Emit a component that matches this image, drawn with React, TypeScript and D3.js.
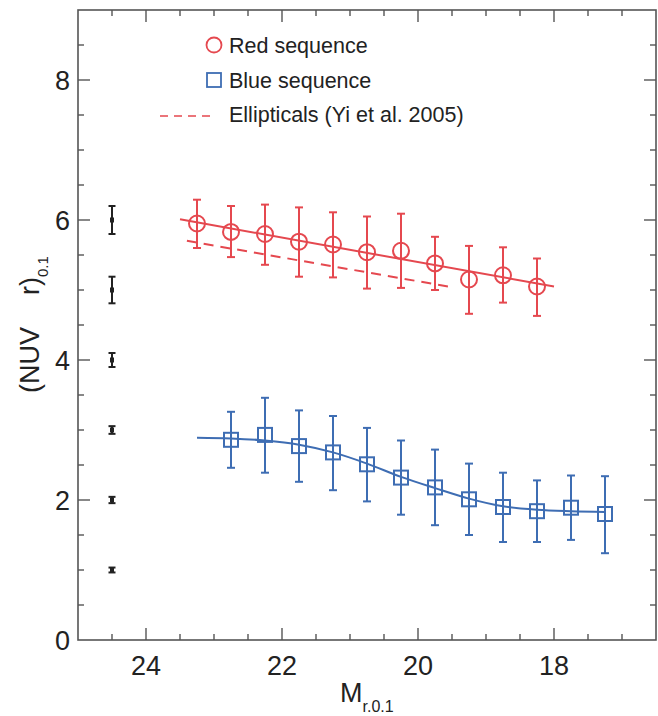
import * as d3 from 'd3'

// ── data ─────────────────────────────────────────────────────────────────────
const redMag   = [23.25, 22.75, 22.25, 21.75, 21.25, 20.75, 20.25, 19.75, 19.25, 18.75, 18.25]
const redColor = [5.95, 5.83, 5.80, 5.69, 5.65, 5.54, 5.56, 5.38, 5.15, 5.21, 5.05]
const redHi    = [6.29, 6.20, 6.22, 6.18, 6.11, 6.05, 6.09, 5.76, 5.63, 5.61, 5.45]
const redLo    = [5.60, 5.47, 5.36, 5.19, 5.18, 5.02, 5.03, 5.00, 4.66, 4.82, 4.63]

const blueMag   = [22.75, 22.25, 21.75, 21.25, 20.75, 20.25, 19.75, 19.25, 18.75, 18.25, 17.75, 17.25]
const blueColor = [2.86, 2.93, 2.77, 2.68, 2.51, 2.32, 2.18, 2.01, 1.90, 1.84, 1.89, 1.80]
const blueHi    = [3.26, 3.46, 3.28, 3.20, 3.03, 2.85, 2.72, 2.52, 2.39, 2.28, 2.35, 2.34]
const blueLo    = [2.46, 2.39, 2.26, 2.14, 1.98, 1.79, 1.64, 1.50, 1.40, 1.40, 1.43, 1.24]

// linear fit to the red sequence and the Yi et al. (2005) ellipticals
const redFitMag     = [23.5, 18.0]
const redFitColor   = [6.01, 5.05]
const ellipMag      = [23.5, 19.5]
const ellipColor    = [5.72, 5.04]

// smooth fit to the blue sequence
const blueFitMag   = [23.25, 22.75, 22.25, 21.75, 21.25, 20.75, 20.25, 19.75, 19.25, 18.75, 18.25, 17.75, 17.25]
const blueFitColor = [2.89, 2.88, 2.85, 2.79, 2.68, 2.52, 2.33, 2.17, 2.02, 1.91, 1.86, 1.84, 1.83]

// typical error bars drawn at the left edge
const errMag    = 24.5
const errLevels = [6, 5, 4, 3, 2, 1]
const errSize   = [0.20, 0.19, 0.10, 0.055, 0.045, 0.035]

const xTickLabels = [24, 22, 20, 18]
const yTickLabels = [0, 2, 4, 6, 8]

// ── constants ────────────────────────────────────────────────────────────────
const W = 658
const H = 716
const RED  = '#e5484f'
const BLUE = '#3e6db3'
const INK  = '#222'
const AXC  = '#555'
const FONT = '"Liberation Sans", Arial, Helvetica, sans-serif'

const x = d3.scaleLinear().domain([25, 16.5]).range([78, 656])
const y = d3.scaleLinear().domain([0, 9]).range([640, 10])

const xMinor = d3.range(16.5, 25.001, 0.5)
const yMinor = d3.range(0, 9.001, 0.5)

type P = [number, number]
const zip = (a: number[], b: number[]): P[] => a.map((v, i) => [v, b[i]])

const line   = d3.line<P>().x(d => x(d[0])).y(d => y(d[1]))
const smooth = d3.line<P>().x(d => x(d[0])).y(d => y(d[1])).curve(d3.curveMonotoneX)

function ErrBar({ mx, lo, hi, col, cap = 4 }: { mx: number; lo: number; hi: number; col: string; cap?: number }) {
  const cx = x(mx)
  return (
    <g stroke={col} strokeWidth={2} fill="none">
      <line x1={cx} x2={cx} y1={y(lo)} y2={y(hi)} />
      <line x1={cx - cap} x2={cx + cap} y1={y(hi)} y2={y(hi)} />
      <line x1={cx - cap} x2={cx + cap} y1={y(lo)} y2={y(lo)} />
    </g>
  )
}

export default function App() {
  const [x0, x1] = x.range()
  const [y0, y1] = y.range()
  const isMajor = (v: number) => Math.abs(v % 2) < 1e-6

  return (
    <svg width={W} height={H} viewBox={`0 0 ${W} ${H}`}
      style={{ position: 'absolute', left: 0, top: 0, display: 'block', background: '#fff' }}
      fontFamily={FONT}>

      {/* ── frame and ticks ───────────────────────────────────────────── */}
      <rect x={x0} y={y1} width={x1 - x0} height={y0 - y1} fill="none" stroke={AXC} strokeWidth={1.6} />
      {xMinor.filter(v => v < 25 && v > 16.5).map(v => {
        const len = isMajor(v) ? 12 : 6
        return (
          <g key={`xt${v}`} stroke={AXC} strokeWidth={1.4}>
            <line x1={x(v)} x2={x(v)} y1={y0} y2={y0 - len} />
            <line x1={x(v)} x2={x(v)} y1={y1} y2={y1 + len} />
          </g>
        )
      })}
      {yMinor.filter(v => v > 0 && v < 9).map(v => {
        const len = isMajor(v) ? 12 : 6
        return (
          <g key={`yt${v}`} stroke={AXC} strokeWidth={1.4}>
            <line x1={x0} x2={x0 + len} y1={y(v)} y2={y(v)} />
            <line x1={x1} x2={x1 - len} y1={y(v)} y2={y(v)} />
          </g>
        )
      })}

      {/* tick labels */}
      {xTickLabels.map(v => (
        <text key={`xl${v}`} x={x(v)} y={y0 + 35} textAnchor="middle" fontSize={27} fill={INK}>{v}</text>
      ))}
      {yTickLabels.map(v => (
        <text key={`yl${v}`} x={x0 - 8} y={y(v) + 9.5} textAnchor="end" fontSize={27} fill={INK}>{v}</text>
      ))}

      {/* axis titles */}
      <text x={340} y={702} fontSize={27} fill={INK}>
        M<tspan fontSize={16} dy={10}>r.0.1</tspan>
      </text>
      <g transform="translate(39,393) rotate(-90)">
        <text x={0} y={0} fontSize={27} fill={INK}>
          (NUV<tspan dx={33}>r)</tspan><tspan fontSize={15} dy={9}>0.1</tspan>
        </text>
      </g>

      {/* ── typical error bars ────────────────────────────────────────── */}
      {errLevels.map((v, i) => (
        <g key={`e${v}`}>
          <ErrBar mx={errMag} lo={v - errSize[i]} hi={v + errSize[i]} col={INK} cap={3.5} />
          <rect x={x(errMag) - 2} y={y(v) - 2.5} width={4} height={5} fill={INK} />
        </g>
      ))}

      {/* ── fits ──────────────────────────────────────────────────────── */}
      <path d={line(zip(redFitMag, redFitColor)) ?? ''} fill="none" stroke={RED} strokeWidth={2} />
      <path d={line(zip(ellipMag, ellipColor)) ?? ''} fill="none" stroke={RED} strokeWidth={2}
        strokeDasharray="10,7" strokeDashoffset={-7} />
      <path d={smooth(zip(blueFitMag, blueFitColor)) ?? ''} fill="none" stroke={BLUE} strokeWidth={2} />

      {/* ── red sequence ──────────────────────────────────────────────── */}
      {redMag.map((m, i) => (
        <g key={`r${m}`}>
          <ErrBar mx={m} lo={redLo[i]} hi={redHi[i]} col={RED} />
          <circle cx={x(m)} cy={y(redColor[i])} r={8} fill="none" stroke={RED} strokeWidth={2} />
        </g>
      ))}

      {/* ── blue sequence ─────────────────────────────────────────────── */}
      {blueMag.map((m, i) => (
        <g key={`b${m}`}>
          <ErrBar mx={m} lo={blueLo[i]} hi={blueHi[i]} col={BLUE} />
          <rect x={x(m) - 7} y={y(blueColor[i]) - 7} width={14} height={14} fill="none" stroke={BLUE} strokeWidth={2} />
        </g>
      ))}

      {/* ── legend ────────────────────────────────────────────────────── */}
      <g fontSize={21.5} fill={INK}>
        <circle cx={214} cy={45} r={7.5} fill="none" stroke={RED} strokeWidth={1.8} />
        <text x={229} y={53}>Red sequence</text>
        <rect x={207} y={73} width={14} height={14} fill="none" stroke={BLUE} strokeWidth={1.8} />
        <text x={229} y={88}>Blue sequence</text>
        <line x1={160} x2={214} y1={116} y2={116} stroke={RED} strokeWidth={1.6} strokeDasharray="8,6" />
        <text x={229} y={122}>Ellipticals (Yi et al. 2005)</text>
      </g>
    </svg>
  )
}
